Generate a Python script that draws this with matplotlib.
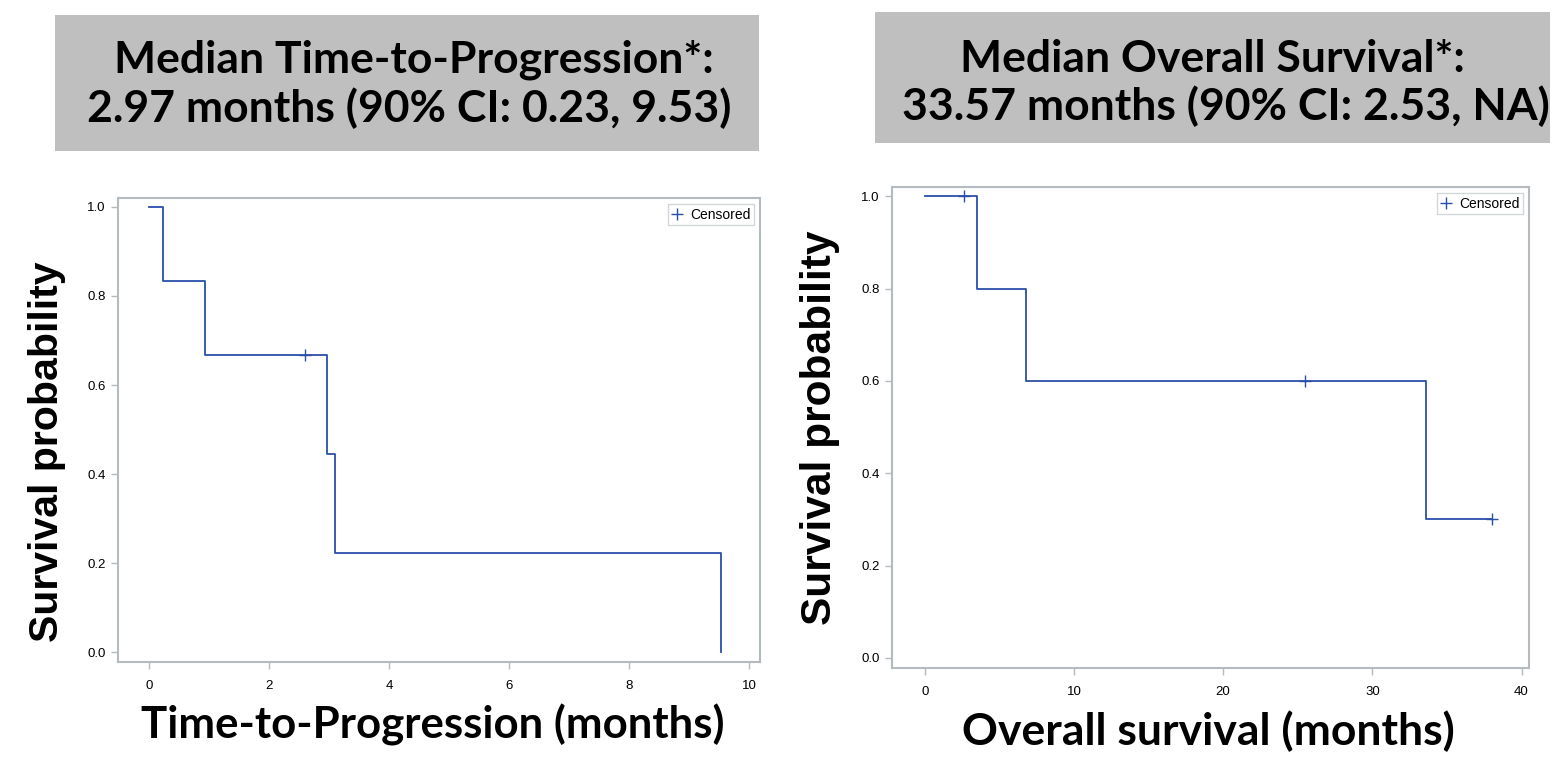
import matplotlib
matplotlib.use("Agg")
import matplotlib.pyplot as plt
from matplotlib.patches import Rectangle
from matplotlib.lines import Line2D

# ----- data -----
ttp_times = [0, 0.23, 0.93, 2.97, 3.09, 9.53]
ttp_surv = [1.0, 0.833, 0.667, 0.444, 0.222, 0.0]
ttp_cens_t = [2.59]
ttp_cens_s = [0.667]

os_times = [0, 3.52, 6.8, 33.6, 38.0]
os_surv = [1.0, 0.8, 0.6, 0.3, 0.3]
os_cens_t = [2.6, 25.5, 38.0]
os_cens_s = [1.0, 0.6, 0.3]

ttp_title = ["Median Time-to-Progression*:", "2.97 months (90% CI: 0.23, 9.53)"]
os_title = ["Median Overall Survival*:", "33.57 months (90% CI: 2.53, NA)"]
ttp_xlabel = "Time-to-Progression (months)"
os_xlabel = "Overall survival (months)"
ylabel = "Survival probability"

ttp_xticks = [0, 2, 4, 6, 8, 10]
os_xticks = [0, 10, 20, 30, 40]
yticks = [0.0, 0.2, 0.4, 0.6, 0.8, 1.0]

BLUE = "#2a4fa8"
FRAME = "#b4babe"
BOXGRAY = "#bfbfbf"
BIG = ["Lato", "DejaVu Sans"]
ARIAL = ["Liberation Sans", "DejaVu Sans"]

W, H = 1553, 761
fig = plt.figure(figsize=(W / 100, H / 100), dpi=100)


def px(x0, y0, x1, y1):
    # pixel box (top-left origin) -> figure fraction rect
    return [x0 / W, 1 - y1 / H, (x1 - x0) / W, (y1 - y0) / H]


def km_panel(rect, times, surv, ct, cs, xticks, xlim, xlabel, xlab_x, xlab_base, xlab_size):
    ax = fig.add_axes(rect)
    ax.step(times, surv, where="post", color=BLUE, lw=1.3)
    ax.plot(ct, cs, ls="none", marker="+", ms=9, mew=1.0, color=BLUE)
    ax.set_xlim(*xlim)
    ax.set_ylim(-0.022, 1.02)
    ax.set_xticks(xticks)
    ax.set_yticks(yticks)
    ax.set_xticklabels([str(t) for t in xticks], family=ARIAL, fontsize=9.5)
    ax.set_yticklabels([f"{t:.1f}" for t in yticks], family=ARIAL, fontsize=9.5)
    for s in ax.spines.values():
        s.set_color(FRAME)
        s.set_linewidth(1.5)
    ax.tick_params(direction="out", length=5, width=1, color=FRAME, pad=4)
    ax.tick_params(axis="x", pad=8)
    h = Line2D([], [], ls="none", marker="+", ms=8, mew=1.0, color=BLUE)
    leg = ax.legend([h], ["Censored"], loc="upper right", prop={"family": ARIAL, "size": 10},
                    frameon=True, fancybox=False, borderpad=0.25, handlelength=0.8,
                    handletextpad=0.5, borderaxespad=0.45)
    leg.get_frame().set_edgecolor("#c8cccf")
    leg.get_frame().set_linewidth(1.0)
    fig.text(xlab_x / W, 1 - xlab_base / H, xlabel, ha="center", va="baseline",
             family=BIG, fontweight="bold", fontsize=xlab_size)
    return ax


km_panel(px(118, 198, 760, 662), ttp_times, ttp_surv, ttp_cens_t, ttp_cens_s,
         ttp_xticks, (-0.52, 10.18), ttp_xlabel, 433, 739, 31.5)
km_panel(px(892, 187, 1529, 668), os_times, os_surv, os_cens_t, os_cens_s,
         os_xticks, (-2.2, 40.5), os_xlabel, 1208, 745, 32)

# y labels (Arial-like bold)
fig.text(47 / W, 1 - 452 / H, ylabel, rotation=90, ha="center", va="center",
         family=ARIAL, fontweight="bold", fontsize=29.5)
fig.text(820 / W, 1 - 428 / H, ylabel, rotation=90, ha="center", va="center",
         family=ARIAL, fontweight="bold", fontsize=30.5)

# grey title boxes
for (x0, y0, x1, y1), lines, cxs, bases in [
    ((55, 15, 759, 151), ttp_title, (414, 409), (72, 122)),
    ((875, 12, 1550, 143), os_title, (1212, 1226), (72, 120)),
]:
    r = px(x0, y0, x1, y1)
    fig.patches.append(Rectangle((r[0], r[1]), r[2], r[3], transform=fig.transFigure,
                                 facecolor=BOXGRAY, edgecolor="none", zorder=0))
    for txt, cx, yy in zip(lines, cxs, bases):
        fig.text(cx / W, 1 - yy / H, txt, ha="center", va="baseline",
                 family=BIG, fontweight="bold", fontsize=32)

fig.savefig("out.png", dpi=100)
